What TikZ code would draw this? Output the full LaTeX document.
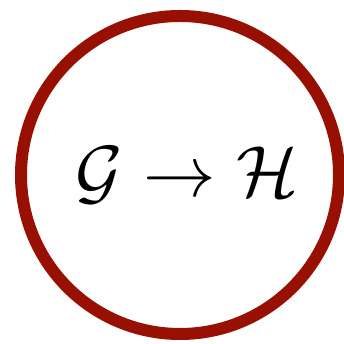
\documentclass[tikz,border=0pt]{standalone}
\usetikzlibrary{positioning}
\definecolor{rust}{RGB}{152,16,2}
\definecolor{ink}{RGB}{0,0,0}
\tikzset{
  ring/.style={circle,draw=#1,line width=12pt,minimum size=318pt,inner sep=0pt},
  ring/.default=rust,
  rel/.style={inner sep=0pt,text=ink},
}
\newcommand{\bigmath}[1]{\scalebox{7.25}{$#1$}}
\begin{document}
\begin{tikzpicture}[x=1pt,y=1pt]
  \useasboundingbox (0,0) rectangle (343,344);
  \node[ring] (map) at (180,169) {};
  \node[rel] (gh) at ([xshift=7pt]map.center) {\bigmath{\mathcal{G}\to\mathcal{H}}};
\end{tikzpicture}
\end{document}
